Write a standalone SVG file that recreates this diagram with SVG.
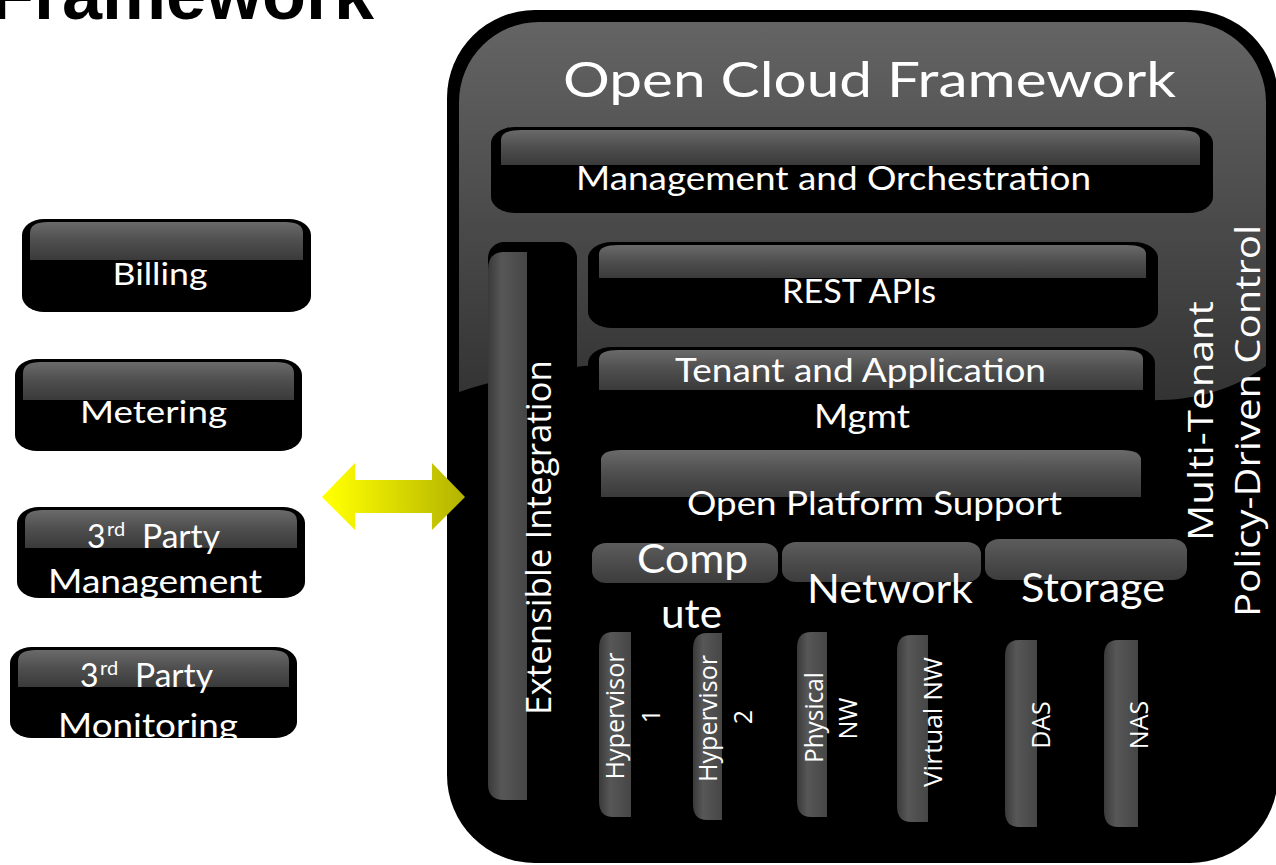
<svg xmlns="http://www.w3.org/2000/svg" width="1276" height="865" viewBox="0 0 1276 865">
<defs>
<style>
.lbl{font-family:Lato,"Open Sans","Liberation Sans",sans-serif;fill:#fff}
.vl{font-family:"Open Sans","DejaVu Sans",sans-serif;fill:#fff}
.btn{fill:#000}
.band{fill:url(#bandG)}
.vband{fill:url(#vbandG)}
.cat{fill:url(#catG)}
</style>
<linearGradient id="bandG" x1="0" y1="0" x2="0" y2="1">
<stop offset="0" stop-color="#6a6a6a"/>
<stop offset="0.5" stop-color="#4e4e4e"/>
<stop offset="1" stop-color="#3a3a3a"/>
</linearGradient>
<linearGradient id="catG" x1="0" y1="0" x2="0" y2="1">
<stop offset="0" stop-color="#5c5c5c"/>
<stop offset="1" stop-color="#3c3c3c"/>
</linearGradient>
<linearGradient id="vbandG" x1="0" y1="0" x2="1" y2="0">
<stop offset="0" stop-color="#3a3a3a"/>
<stop offset="0.35" stop-color="#575757"/>
<stop offset="1" stop-color="#464646"/>
</linearGradient>
<linearGradient id="glossG" gradientUnits="userSpaceOnUse" x1="0" y1="22" x2="0" y2="400">
<stop offset="0" stop-color="#646464"/>
<stop offset="1" stop-color="#333333"/>
</linearGradient>
<linearGradient id="arrowG" gradientUnits="userSpaceOnUse" x1="330" y1="0" x2="465" y2="0">
<stop offset="0" stop-color="#ffff00"/>
<stop offset="1" stop-color="#b3b300"/>
</linearGradient>
</defs>
<rect width="1276" height="865" fill="#fff"/>

<text id="page-title" x="-10" y="19" font-family="'Liberation Sans',Arial,sans-serif" font-weight="bold" font-size="72" fill="#000">Framework</text>

<g id="billing">
<rect class="btn" x="22" y="219" width="289" height="93" rx="22" ry="16"/>
<path class="band" d="M30,260 V233 Q30,222 48,222 H285 Q303,222 303,233 V260 Z"/>
<text class="lbl" x="160" y="285" font-size="31" text-anchor="middle" textLength="95" lengthAdjust="spacingAndGlyphs">Billing</text>
</g>
<g id="metering">
<rect class="btn" x="15" y="359" width="287" height="92" rx="22" ry="16"/>
<path class="band" d="M23,400 V373 Q23,362 41,362 H276 Q294,362 294,373 V400 Z"/>
<text class="lbl" x="153.5" y="423" font-size="31" text-anchor="middle" textLength="147" lengthAdjust="spacingAndGlyphs">Metering</text>
</g>
<g id="third-party-management">
<rect class="btn" x="17" y="507" width="288" height="91" rx="22" ry="16"/>
<path class="band" d="M25,548 V521 Q25,510 43,510 H279 Q297,510 297,521 V548 Z"/>
<text class="lbl" x="87" y="548" font-size="32">3<tspan x="107" dy="-12" font-size="20">rd</tspan><tspan x="142" dy="12" textLength="78" lengthAdjust="spacingAndGlyphs">Party</tspan></text>
<text class="lbl" x="155" y="593" font-size="32" text-anchor="middle" textLength="214" lengthAdjust="spacingAndGlyphs">Management</text>
</g>
<g id="third-party-monitoring">
<rect class="btn" x="10" y="647" width="287" height="91" rx="22" ry="16"/>
<path class="band" d="M18,687 V661 Q18,650 36,650 H271 Q289,650 289,661 V687 Z"/>
<text class="lbl" x="80" y="687" font-size="32">3<tspan x="100" dy="-12" font-size="20">rd</tspan><tspan x="135" dy="12" textLength="78" lengthAdjust="spacingAndGlyphs">Party</tspan></text>
<text class="lbl" x="148" y="737" font-size="32" text-anchor="middle" textLength="180" lengthAdjust="spacingAndGlyphs">Monitoring</text>
</g>

<g id="open-cloud-framework">
<rect x="447" y="10" width="831" height="853" rx="88" fill="#000"/>
<path d="M459,392 V102 A80,80 0 0 1 539,22 H1186 A80,80 0 0 1 1266,102 V366 C1230,392 1190,402 1140,400 C1000,395 800,360 650,362 C560,364 500,378 459,392 Z" fill="url(#glossG)"/>
<text class="lbl" x="869.5" y="97" font-size="48" text-anchor="middle" textLength="613" lengthAdjust="spacingAndGlyphs">Open Cloud Framework</text>
</g>

<g id="management-orchestration">
<rect class="btn" x="491" y="127" width="722" height="86" rx="24" ry="16"/>
<path class="band" d="M501,165 V140 Q501,130 521,130 H1180 Q1200,130 1200,140 V165 Z"/>
<text class="lbl" x="833.5" y="190" font-size="32" text-anchor="middle" textLength="515" lengthAdjust="spacingAndGlyphs">Management and Orchestration</text>
</g>

<g id="extensible-integration">
<rect x="488" y="242" width="89" height="563" rx="16" fill="#000"/>
<path class="vband" d="M527,252 H504 Q488,252 488,270 V784 Q488,800 504,800 H527 Z"/>
<text class="vl" transform="translate(551,537.5) rotate(-90)" font-size="34" text-anchor="middle" textLength="355" lengthAdjust="spacingAndGlyphs">Extensible Integration</text>
</g>

<g id="rest-apis">
<rect class="btn" x="588" y="242" width="570" height="86" rx="24" ry="16"/>
<path class="band" d="M599,278 V254 Q599,245 619,245 H1126 Q1146,245 1146,254 V278 Z"/>
<text class="lbl" x="859" y="303" font-size="32" text-anchor="middle" textLength="154" lengthAdjust="spacingAndGlyphs">REST APIs</text>
</g>

<g id="tenant-application-mgmt">
<rect class="btn" x="588" y="347" width="567" height="96" rx="24" ry="16"/>
<path class="band" d="M599,390 V359 Q599,350 619,350 H1123 Q1143,350 1143,359 V390 Z"/>
<text class="lbl" x="860.5" y="382" font-size="32" text-anchor="middle" textLength="371" lengthAdjust="spacingAndGlyphs">Tenant and Application</text>
<text class="lbl" x="862" y="428" font-size="32" text-anchor="middle" textLength="96" lengthAdjust="spacingAndGlyphs">Mgmt</text>
</g>

<g id="open-platform-support">
<rect class="btn" x="593" y="447" width="556" height="88" rx="24" ry="16"/>
<path class="band" d="M601,497 V460 Q601,450 621,450 H1121 Q1141,450 1141,460 V497 Z"/>
<text class="lbl" x="874.5" y="515" font-size="32" text-anchor="middle" textLength="375" lengthAdjust="spacingAndGlyphs">Open Platform Support</text>
</g>

<g id="compute">
<rect x="588" y="540" width="192" height="290" rx="16" fill="#000"/>
<rect class="cat" x="592" y="543" width="186" height="40" rx="14" ry="12"/>
<text class="lbl" x="692.5" y="573" font-size="40" text-anchor="middle" textLength="111" lengthAdjust="spacingAndGlyphs">Comp</text>
<text class="lbl" x="691.5" y="628" font-size="40" text-anchor="middle" textLength="61" lengthAdjust="spacingAndGlyphs">ute</text>
</g>
<g id="network">
<rect x="780" y="539" width="204" height="291" rx="16" fill="#000"/>
<rect class="cat" x="782" y="542" width="199" height="40" rx="14" ry="12"/>
<text class="lbl" x="890" y="603" font-size="40" text-anchor="middle" textLength="166" lengthAdjust="spacingAndGlyphs">Network</text>
</g>
<g id="storage">
<rect x="983" y="536" width="207" height="294" rx="16" fill="#000"/>
<rect class="cat" x="985" y="539" width="202" height="41" rx="14" ry="12"/>
<text class="lbl" x="1093" y="602" font-size="40" text-anchor="middle" textLength="144" lengthAdjust="spacingAndGlyphs">Storage</text>
</g>

<g id="hypervisor-1">
<rect x="599" y="630" width="68" height="190" rx="14" fill="#000"/>
<path class="vband" d="M631,632 H613 Q599,632 599,648 V801 Q599,817 613,817 H631 Z"/>
<text class="vl" transform="translate(624,716) rotate(-90)" font-size="25" text-anchor="middle" textLength="127" lengthAdjust="spacingAndGlyphs">Hypervisor</text>
<text class="vl" transform="translate(660,716) rotate(-90)" font-size="25" text-anchor="middle">1</text>
</g>
<g id="hypervisor-2">
<rect x="693" y="631" width="67" height="192" rx="14" fill="#000"/>
<path class="vband" d="M722,633 H707 Q693,633 693,649 V804 Q693,820 707,820 H722 Z"/>
<text class="vl" transform="translate(717,718.5) rotate(-90)" font-size="25" text-anchor="middle" textLength="127" lengthAdjust="spacingAndGlyphs">Hypervisor</text>
<text class="vl" transform="translate(752,717) rotate(-90)" font-size="25" text-anchor="middle">2</text>
</g>
<g id="physical-nw">
<rect x="797" y="630" width="66" height="190" rx="14" fill="#000"/>
<path class="vband" d="M827,632 H811 Q797,632 797,648 V801 Q797,817 811,817 H827 Z"/>
<text class="vl" transform="translate(823,717.5) rotate(-90)" font-size="25" text-anchor="middle" textLength="91" lengthAdjust="spacingAndGlyphs">Physical</text>
<text class="vl" transform="translate(857,718.5) rotate(-90)" font-size="25" text-anchor="middle">NW</text>
</g>
<g id="virtual-nw">
<rect x="897" y="633" width="69" height="192" rx="14" fill="#000"/>
<path class="vband" d="M928,635 H911 Q897,635 897,651 V806 Q897,822 911,822 H928 Z"/>
<text class="vl" transform="translate(942,722) rotate(-90)" font-size="25" text-anchor="middle" textLength="130" lengthAdjust="spacingAndGlyphs">Virtual NW</text>
</g>
<g id="das">
<rect x="1005" y="638" width="69" height="192" rx="14" fill="#000"/>
<path class="vband" d="M1037,640 H1019 Q1005,640 1005,656 V811 Q1005,827 1019,827 H1037 Z"/>
<text class="vl" transform="translate(1050,725) rotate(-90)" font-size="25" text-anchor="middle">DAS</text>
</g>
<g id="nas">
<rect x="1104" y="638" width="69" height="192" rx="14" fill="#000"/>
<path class="vband" d="M1138,640 H1118 Q1104,640 1104,656 V811 Q1104,827 1118,827 H1138 Z"/>
<text class="vl" transform="translate(1148,725) rotate(-90)" font-size="25" text-anchor="middle">NAS</text>
</g>

<g id="multi-tenant-control">
<text class="vl" transform="translate(1213,421) rotate(-90)" font-size="34" text-anchor="middle" textLength="240" lengthAdjust="spacingAndGlyphs">Multi-Tenant</text>
<text class="vl" transform="translate(1260,421) rotate(-90)" font-size="35" text-anchor="middle" textLength="392" lengthAdjust="spacingAndGlyphs">Policy-Driven Control</text>
</g>

<g id="connectors">
<polygon id="integration-arrow" points="322,497 355,463 355,480 432,480 432,463 465,497 432,530 432,513 355,513 355,530" fill="url(#arrowG)"/>
</g>
</svg>
